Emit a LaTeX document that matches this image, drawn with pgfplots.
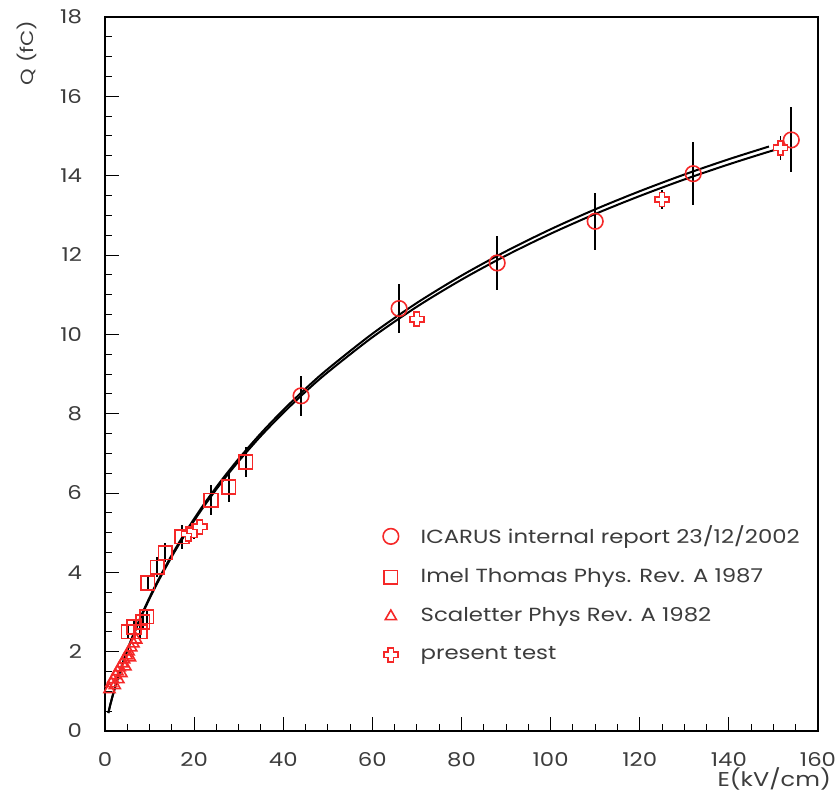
\documentclass[border=0pt]{standalone}
\usepackage{fontspec}
\setmainfont{Poppins}[FakeStretch=1.2]
\usepackage{pgfplots}
\pgfplotsset{compat=1.18}
\definecolor{mred}{RGB}{245,40,40}
\definecolor{txt}{RGB}{60,60,60}
\pgfdeclareplotmark{oplus}{%
 \pgfpathmoveto{\pgfqpoint{-0.38\pgfplotmarksize}{\pgfplotmarksize}}%
 \pgfpathlineto{\pgfqpoint{0.38\pgfplotmarksize}{\pgfplotmarksize}}%
 \pgfpathlineto{\pgfqpoint{0.38\pgfplotmarksize}{0.38\pgfplotmarksize}}%
 \pgfpathlineto{\pgfqpoint{\pgfplotmarksize}{0.38\pgfplotmarksize}}%
 \pgfpathlineto{\pgfqpoint{\pgfplotmarksize}{-0.38\pgfplotmarksize}}%
 \pgfpathlineto{\pgfqpoint{0.38\pgfplotmarksize}{-0.38\pgfplotmarksize}}%
 \pgfpathlineto{\pgfqpoint{0.38\pgfplotmarksize}{-\pgfplotmarksize}}%
 \pgfpathlineto{\pgfqpoint{-0.38\pgfplotmarksize}{-\pgfplotmarksize}}%
 \pgfpathlineto{\pgfqpoint{-0.38\pgfplotmarksize}{-0.38\pgfplotmarksize}}%
 \pgfpathlineto{\pgfqpoint{-\pgfplotmarksize}{-0.38\pgfplotmarksize}}%
 \pgfpathlineto{\pgfqpoint{-\pgfplotmarksize}{0.38\pgfplotmarksize}}%
 \pgfpathlineto{\pgfqpoint{-0.38\pgfplotmarksize}{0.38\pgfplotmarksize}}%
 \pgfpathclose
 \pgfusepathqfillstroke}

\pgfplotstableread{
x y
0.75 0.451
1 0.572
1.25 0.686
1.5 0.794
2 0.998
2.5 1.19
3 1.371
4 1.709
5 2.021
6 2.313
8 2.850
10 3.337
12 3.785
15 4.399
18 4.958
22 5.633
26 6.244
30 6.802
35 7.440
40 8.020
45 8.553
50 9.045
60 9.926
70 10.697
80 11.378
90 11.987
100 12.536
110 13.034
120 13.487
130 13.904
140 14.286
148 14.571
153 14.740
}\fitlow

\pgfplotstableread{
x y
0.75 0.455
1 0.577
1.25 0.692
1.5 0.801
2 1.007
2.5 1.201
3 1.383
4 1.724
5 2.039
6 2.334
8 2.876
10 3.367
12 3.819
15 4.439
18 5.003
22 5.684
26 6.300
30 6.863
35 7.507
40 8.092
45 8.630
50 9.126
60 10.015
70 10.793
80 11.480
90 12.095
100 12.649
110 13.151
120 13.608
130 14.029
140 14.415
149 14.735
}\fithigh

\pgfplotstableread{
x y e
44 8.45 0.50
66 10.65 0.62
88 11.80 0.67
110 12.85 0.72
132 14.05 0.79
154 14.90 0.82
}\icarus

\pgfplotstableread{
x y e
5.2 2.50 0.15
6.5 2.62 0.15
7.9 2.50 0.15
8.5 2.75 0.15
9.4 2.88 0.20
9.6 3.73 0.20
11.7 4.13 0.25
13.5 4.50 0.25
17.3 4.90 0.30
23.8 5.82 0.38
27.8 6.15 0.38
31.6 6.78 0.38
}\imel

\pgfplotstableread{
x y
1.0 1.05
1.4 1.20
1.8 1.30
2.2 1.15
2.4 1.40
2.8 1.50
3.0 1.30
3.3 1.60
3.7 1.45
3.9 1.70
4.3 1.80
4.6 1.62
4.9 1.90
5.3 2.00
5.6 1.85
5.9 2.10
6.4 2.20
7.0 2.30
}\scal

\pgfplotstableread{
x y e
18.7 4.97 0.20
20.0 5.05 0.20
21.3 5.15 0.20
70.0 10.38 0.20
125.0 13.40 0.25
151.6 14.70 0.30
}\present

\begin{document}
\begin{tikzpicture}
\begin{axis}[
  at={(0,0)}, anchor=south west,
  scale only axis, width=356.5pt, height=357pt,
  xmin=0, xmax=160, ymin=0, ymax=18,
  xtick={0,20,...,160}, ytick={0,2,...,18},
  minor x tick num=3, minor y tick num=3,
  tick align=inside, xtick pos=bottom, ytick pos=left,
  major tick length=7pt, minor tick length=3.5pt,
  tick style={black, line width=0.5pt},
  axis line style={line width=1.1pt},
  /pgf/number format/assume math mode=true,
  tick label style={font=\fontsize{9.5}{11}\selectfont, text=txt},
  yticklabel style={xshift=-8pt},
  xticklabel style={yshift=-7pt},
  xlabel={E(kV/cm)}, ylabel={Q (fC)},
  xlabel style={font=\fontsize{10}{12}\selectfont, text=txt,
    at={(axis description cs:1.028,-0.067)}, anchor=east},
  ylabel style={font=\fontsize{8.8}{10}\selectfont, text=txt,
    at={(axis description cs:-0.1094,1.005)}, anchor=east},
  legend style={draw=none, fill=none, font=\fontsize{9.5}{11}\selectfont, text=txt,
    at={(axis description cs:0.381,0.299)}, anchor=north west, row sep=7pt,
    /tikz/every odd column/.append style={column sep=9pt}},
  legend cell align=left,
  legend image code/.code={\draw[mark repeat=2,mark phase=2,#1] plot coordinates {(0pt,0pt) (5pt,0pt) (10pt,0pt)};},
]
\addplot[black, line width=1pt, smooth, forget plot] table[x=x,y=y]{\fitlow};
\addplot[black, line width=1pt, smooth, forget plot] table[x=x,y=y]{\fithigh};

\addplot[only marks, mark=o, mark size=3.9pt, mred, mark options={fill=white, line width=0.8pt},
  error bars/.cd, y dir=both, y explicit, error mark=none,
  error bar style={black, line width=0.9pt}]
  table[x=x,y=y,y error=e]{\icarus};
\addlegendentry{ICARUS internal report 23/12/2002}

\addplot[only marks, mark=square, mark size=3.4pt, mred, mark options={fill=white, line width=0.8pt},
  error bars/.cd, y dir=both, y explicit, error mark=none,
  error bar style={black, line width=0.8pt}]
  table[x=x,y=y,y error=e]{\imel};
\addlegendentry{Imel Thomas Phys. Rev. A 1987}

\addplot[only marks, mark=triangle, mark size=3.2pt, mred, mark options={fill=white, line width=0.8pt}]
  table[x=x,y=y]{\scal};
\addlegendentry{Scaletter Phys Rev. A 1982}

\addplot[only marks, mark=oplus, mark size=3.5pt, mred, mark options={fill=white, line width=0.8pt},
  error bars/.cd, y dir=both, y explicit, error mark=none,
  error bar style={black, line width=0.8pt}]
  table[x=x,y=y,y error=e]{\present};
\addlegendentry{present test}
\end{axis}
\pgfresetboundingbox
\path[use as bounding box] (-52.5pt,-31pt) rectangle (367.5pt,365.5pt);
\end{tikzpicture}
\end{document}
